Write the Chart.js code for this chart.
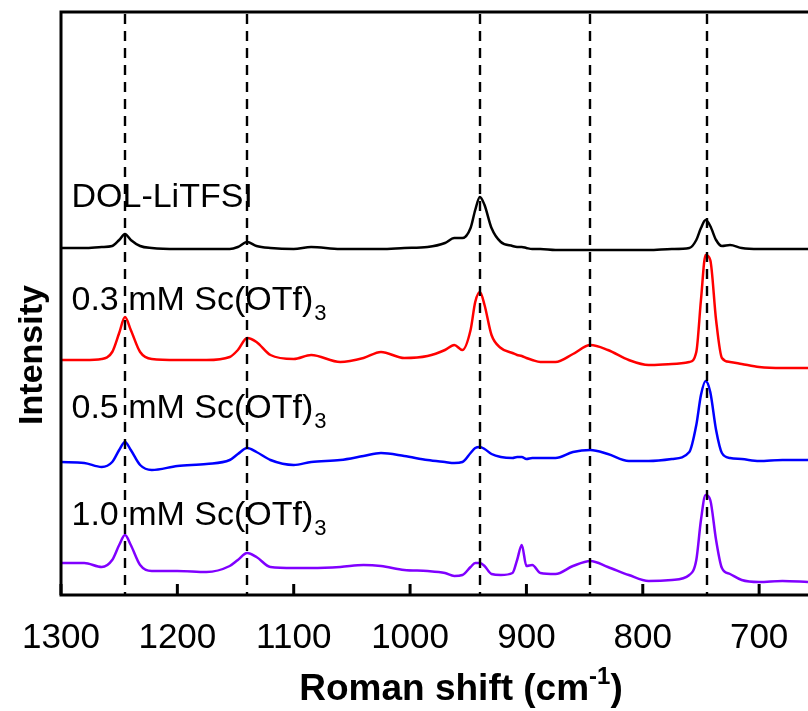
<!DOCTYPE html>
<html>
<head>
<meta charset="utf-8">
<script src="https://cdn.jsdelivr.net/npm/chart.js@4.4.1/dist/chart.umd.min.js"></script>
<style>
  html, body { margin: 0; padding: 0; background: #fff; overflow: hidden; }
  #wrap { width: 808px; height: 711px; position: relative; }
</style>
</head>
<body>
<div id="wrap"><canvas id="chart"></canvas></div>
<script>
// Raman shift (cm-1), shared by all four spectra
const SHIFT = [1300, 1280, 1265, 1256, 1250, 1245, 1240, 1232, 1222, 1200,
  1175, 1155, 1148, 1140, 1132, 1120, 1100, 1085, 1060, 1040,
  1025, 1005, 985, 970, 962, 955, 948, 944, 940, 936,
  930, 922, 912, 908, 904, 900, 895, 888, 875, 860,
  845, 830, 812, 795, 775, 760, 754, 750, 746, 742,
  737, 732, 725, 715, 700, 680, 658];

// stacked intensities (arb. units, offsets included)
const DOL_LITFSI = [347, 347, 348, 349, 355, 361, 355, 349, 347, 346,
  346, 346, 348, 353, 349, 347, 346, 348, 346, 346,
  346, 347, 348, 352, 357, 357, 367, 385, 398, 390,
  367, 353, 349, 348, 348, 347, 346, 346, 345, 345,
  345, 345, 345, 345, 346, 347, 355, 367, 375, 369,
  355, 349, 350, 347, 346, 346, 346];
const SC_03 = [235, 235, 236, 243, 262, 278, 265, 243, 236, 235,
  235, 238, 245, 257, 253, 240, 236, 240, 233, 237,
  243, 237, 239, 245, 250, 245, 265, 293, 303, 290,
  260, 247, 242, 240, 239, 237, 235, 233, 233, 241,
  250, 245, 235, 230, 231, 233, 243, 295, 340, 335,
  275, 237, 233, 231, 228, 227, 227];
const SC_05 = [133, 132, 128, 133, 145, 153, 145, 130, 125, 129,
  131, 135, 141, 147, 143, 135, 130, 133, 135, 139,
  142, 139, 135, 133, 132, 133, 142, 147, 148, 146,
  141, 138, 137, 138, 138, 136, 137, 137, 137, 143,
  145, 141, 134, 134, 136, 143, 170, 200, 214, 203,
  165, 142, 137, 136, 134, 135, 135];
const SC_10 = [32, 32, 28, 35, 50, 60, 50, 30, 24, 24,
  23, 29, 35, 42, 38, 28, 27, 27, 28, 30,
  29, 25, 24, 22, 19, 20, 28, 32, 32, 29,
  21, 20, 22, 35, 50, 29, 30, 22, 21, 29,
  34, 28, 20, 14, 15, 20, 35, 75, 100, 95,
  55, 27, 21, 15, 13, 14, 13];

const X_TICKS = [1300, 1200, 1100, 1000, 900, 800, 700];
const PEAK_LINES = [1245, 1140, 940, 845, 745];
const LABELS = ['DOL-LiTFSI', '0.3 mM Sc(OTf)', '0.5 mM Sc(OTf)', '1.0 mM Sc(OTf)'];
const LABEL_SUB = ['', '3', '3', '3'];
const COLORS = ['#000000', '#ff0000', '#0000ff', '#8000ff'];

const SERIES = [DOL_LITFSI, SC_03, SC_05, SC_10];

function pairs(values) {
  return SHIFT.map((x, i) => ({ x, y: values[i] }));
}

function drawRich(ctx, text, sub, x, y, size) {
  ctx.font = `${size}px "Liberation Sans", Arial, sans-serif`;
  ctx.fillText(text, x, y);
  if (!sub) return;
  const w = ctx.measureText(text).width;
  ctx.font = `${Math.round(size * 0.65)}px "Liberation Sans", Arial, sans-serif`;
  ctx.fillText(sub, x + w + 1, y + size * 0.28);
}

const decor = {
  id: 'decor',
  afterDatasetsDraw(chart) {
    const { ctx, chartArea: a, scales: { x, y } } = chart;
    ctx.save();
    ctx.fillStyle = '#000';
    ctx.textBaseline = 'alphabetic';
    ctx.textAlign = 'left';
    // series captions anchored at (shift, intensity)
    const anchors = [388, 285, 177, 70];
    LABELS.forEach((t, i) => {
      drawRich(ctx, t, LABEL_SUB[i], x.getPixelForValue(1291), y.getPixelForValue(anchors[i]), 34);
    });
    // dashed peak markers
    ctx.strokeStyle = '#000';
    ctx.lineWidth = 2.4;
    ctx.setLineDash([10, 7]);
    PEAK_LINES.forEach(v => {
      const px = Math.round(x.getPixelForValue(v));
      ctx.beginPath();
      ctx.moveTo(px, a.top + 2);
      ctx.lineTo(px, a.bottom);
      ctx.stroke();
    });
    ctx.setLineDash([]);
    // frame: left, top, bottom
    ctx.lineWidth = 3;
    ctx.beginPath();
    ctx.moveTo(a.left, a.bottom + 1.5);
    ctx.lineTo(a.left, a.top);
    ctx.moveTo(a.left - 1.5, a.top);
    ctx.lineTo(a.right, a.top);
    ctx.moveTo(a.left - 1.5, a.bottom);
    ctx.lineTo(a.right, a.bottom);
    ctx.stroke();
    // inward major ticks
    X_TICKS.forEach(v => {
      const px = x.getPixelForValue(v);
      ctx.beginPath();
      ctx.moveTo(px, a.bottom);
      ctx.lineTo(px, a.bottom - 11);
      ctx.stroke();
    });
    ctx.restore();
  },
  afterDraw(chart) {
    const { ctx } = chart;
    ctx.save();
    ctx.fillStyle = '#000';
    ctx.textBaseline = 'alphabetic';
    // x title with superscript
    const big = 'bold 37px "Liberation Sans", Arial, sans-serif';
    const small = 'bold 24px "Liberation Sans", Arial, sans-serif';
    ctx.font = big;
    const p1 = 'Roman shift (cm';
    const w1 = ctx.measureText(p1).width;
    ctx.font = small;
    const w2 = ctx.measureText('-1').width;
    ctx.font = big;
    const w3 = ctx.measureText(')').width;
    let sx = 461 - (w1 + w2 + w3) / 2;
    const by = 700;
    ctx.fillText(p1, sx, by);
    ctx.font = small;
    ctx.fillText('-1', sx + w1, by - 16);
    ctx.font = big;
    ctx.fillText(')', sx + w1 + w2, by);
    // y title
    ctx.translate(42, 355);
    ctx.rotate(-Math.PI / 2);
    ctx.textAlign = 'center';
    ctx.font = 'bold 34px "Liberation Sans", Arial, sans-serif';
    ctx.fillText('Intensity', 0, 0);
    ctx.restore();
  }
};

new Chart(document.getElementById('chart'), {
  type: 'line',
  data: {
    datasets: SERIES.map((s, i) => ({
      label: LABELS[i] + LABEL_SUB[i],
      data: pairs(s),
      borderColor: COLORS[i],
      borderWidth: 2.5,
      pointRadius: 0,
      cubicInterpolationMode: 'monotone',
      fill: false
    }))
  },
  options: {
    responsive: true,
    maintainAspectRatio: false,
    animation: false,
    devicePixelRatio: 1,
    layout: { padding: { left: 61, top: 12, right: 0, bottom: 0 } },
    plugins: { legend: { display: false }, tooltip: { enabled: false } },
    scales: {
      x: {
        type: 'linear',
        reverse: true,
        min: 658,
        max: 1300,
        afterBuildTicks(scale) { scale.ticks = X_TICKS.map(v => ({ value: v })); },
        afterFit(scale) { scale.height = 116; },
        grid: { display: true, drawOnChartArea: false, drawTicks: true, tickLength: 22, tickColor: 'rgba(0,0,0,0)' },
        border: { display: false },
        ticks: {
          padding: 0,
          color: '#000',
          maxRotation: 0,
          callback: v => String(v),
          font: { family: '"Liberation Sans", Arial, sans-serif', size: 35 }
        }
      },
      y: { display: false, min: 0, max: 583 }
    }
  },
  plugins: [decor]
});
</script>
</body>
</html>
